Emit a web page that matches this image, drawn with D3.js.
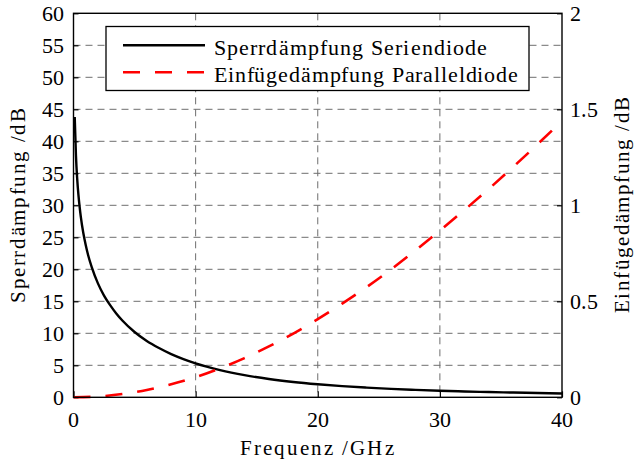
<!DOCTYPE html>
<html><head><meta charset="utf-8"><script src="https://cdn.jsdelivr.net/npm/d3@7"></script>
<style>
  @font-face { font-family: "ChartSerif"; src: local("Liberation Serif"), local("LiberationSerif"), local("Tinos"); }
  body { margin: 0; }
  svg text { font-family: "ChartSerif", "Liberation Serif", "Tinos", "Times New Roman", serif !important; }
</style>
</head>
<body>
<script>
// Frequency samples (GHz) and blocking attenuation of the series diode (dB)
const sperrFreq = [0.1, 0.2, 0.3, 0.4, 0.5, 0.6, 0.8, 1.0, 1.2, 1.5, 2, 2.5, 3, 3.5, 4, 5, 6, 7, 8, 9, 10,
                   12, 14, 16, 18, 20, 22, 24, 26, 28, 30, 32, 34, 36, 38, 40];
const sperrDb   = [43.8, 37.8, 34.2, 31.7, 29.8, 28.2, 25.7, 23.8, 22.2, 20.3, 17.8, 15.9, 14.4, 13.1, 12.0,
                   10.2, 8.8, 7.7, 6.75, 5.97, 5.3, 4.25, 3.46, 2.86, 2.4, 2.04, 1.74, 1.51, 1.32, 1.16,
                   1.02, 0.91, 0.82, 0.74, 0.67, 0.6];

// Frequency samples (GHz) and insertion loss of the shunt diode (dB, right axis)
const einfFreq = [0, 2, 4, 6, 8, 10, 12, 14, 16, 18, 20, 22, 24, 26, 28, 30, 32, 34, 36, 38, 40];
const einfDb   = [0, 0.004, 0.017, 0.038, 0.068, 0.105, 0.151, 0.204, 0.265, 0.332, 0.407, 0.488,
                  0.574, 0.666, 0.765, 0.868, 0.975, 1.085, 1.2, 1.318, 1.44];

// Tick values
const xTicks = [0, 10, 20, 30, 40];
const yLeftTicks = [0, 5, 10, 15, 20, 25, 30, 35, 40, 45, 50, 55, 60];
const yRightTicks = [0, 0.5, 1, 1.5, 2];

// Labels
const legendLabels = ["Sperrdämpfung Seriendiode", "Einfügedämpfung Paralleldiode"];
const xTitle = "Frequenz /GHz";
const yLeftTitle = "Sperrdämpfung /dB";
const yRightTitle = "Einfügedämpfung /dB";

const W = 634, H = 462;
const plot = { left: 73.5, right: 562, top: 13.3, bottom: 397.3 };

const svg = d3.select("body").append("svg").attr("width", W).attr("height", H);

const x = d3.scaleLinear().domain([0, 40]).range([plot.left, plot.right]);
const yL = d3.scaleLinear().domain([0, 60]).range([plot.bottom, plot.top]);
const yR = d3.scaleLinear().domain([0, 2]).range([plot.bottom, plot.top]);

// Dashed grid
const grid = svg.append("g").attr("stroke", "#6e6e6e").attr("stroke-width", 1)
  .attr("stroke-dasharray", "7,5").attr("fill", "none");
grid.selectAll("line.h").data(yLeftTicks.filter(d => d > 0 && d < 60)).join("line")
  .attr("class", "h")
  .attr("x1", plot.left).attr("x2", plot.right)
  .attr("y1", d => yL(d)).attr("y2", d => yL(d));
grid.selectAll("line.v").data(xTicks.filter(d => d > 0 && d < 40)).join("line")
  .attr("class", "v")
  .attr("y1", plot.top).attr("y2", plot.bottom)
  .attr("x1", d => x(d)).attr("x2", d => x(d));

// Plain text helper with the serif face
function addText(parent, str, size) {
  return parent.append("text").attr("font-size", size).attr("fill", "#000").text(str);
}

// Inward tick marks from the axis generators; labels drawn as separate texts
const styleAxis = g => {
  g.select(".domain").remove();
  g.selectAll(".tick text").remove();
  g.selectAll(".tick line").attr("stroke", "#000").attr("stroke-width", 1.2);
};
svg.append("g").attr("transform", `translate(0,${plot.bottom})`)
  .call(d3.axisBottom(x).tickValues(xTicks).tickSizeInner(-6).tickSizeOuter(0)).call(styleAxis);
svg.append("g").attr("transform", `translate(${plot.left},0)`)
  .call(d3.axisLeft(yL).tickValues(yLeftTicks).tickSizeInner(-5).tickSizeOuter(0)).call(styleAxis);
svg.append("g").attr("transform", `translate(${plot.right},0)`)
  .call(d3.axisRight(yR).tickValues(yRightTicks).tickSizeInner(-5).tickSizeOuter(0)).call(styleAxis);

const tickSize = 22;
xTicks.forEach(t => addText(svg, d3.format("d")(t), tickSize)
  .attr("x", x(t)).attr("y", plot.bottom + 30).attr("text-anchor", "middle"));
yLeftTicks.forEach(t => addText(svg, d3.format("d")(t), tickSize)
  .attr("x", plot.left - 10).attr("y", yL(t) + 8).attr("text-anchor", "end"));
yRightTicks.forEach(t => addText(svg, d3.format("~g")(t), tickSize)
  .attr("x", plot.right + 8).attr("y", yR(t) + 8).attr("text-anchor", "start"));

// Curves
const lineL = d3.line().x(d => x(d[0])).y(d => yL(d[1])).curve(d3.curveMonotoneX);
const lineR = d3.line().x(d => x(d[0])).y(d => yR(d[1])).curve(d3.curveMonotoneX);

svg.append("path")
  .datum(sperrFreq.map((f, i) => [f, sperrDb[i]]))
  .attr("d", lineL).attr("fill", "none").attr("stroke", "#000").attr("stroke-width", 2.4);

svg.append("path")
  .datum(einfFreq.map((f, i) => [f, einfDb[i]]))
  .attr("d", lineR).attr("fill", "none").attr("stroke", "#ff0000").attr("stroke-width", 2.6)
  .attr("stroke-dasharray", "17,15");

// Plot frame
svg.append("rect")
  .attr("x", plot.left).attr("y", plot.top)
  .attr("width", plot.right - plot.left).attr("height", plot.bottom - plot.top)
  .attr("fill", "none").attr("stroke", "#000").attr("stroke-width", 1.4);

// Legend
const lg = svg.append("g");
lg.append("rect").attr("x", 106).attr("y", 26.5).attr("width", 423).attr("height", 64)
  .attr("fill", "#fff").attr("stroke", "#000").attr("stroke-width", 1.3);
const legendStyles = [
  { stroke: "#000", dash: null, width: 2.4 },
  { stroke: "#ff0000", dash: "17,15", width: 2.6 }
];
const legendWidths = [273, 304];
legendLabels.forEach((lab, i) => {
  const yy = 45.3 + i * 27;
  lg.append("line").attr("x1", 123).attr("x2", 205).attr("y1", yy).attr("y2", yy)
    .attr("stroke", legendStyles[i].stroke).attr("stroke-width", legendStyles[i].width)
    .attr("stroke-dasharray", legendStyles[i].dash);
  addText(lg, lab, 22).attr("x", 214).attr("y", yy + 9.7)
    .attr("textLength", legendWidths[i]).attr("lengthAdjust", "spacing");
});

// Axis titles
addText(svg, xTitle, 21).attr("x", 316.5).attr("y", 455).attr("text-anchor", "middle")
  .attr("textLength", 154).attr("lengthAdjust", "spacing");
addText(svg, yLeftTitle, 21).attr("transform", "translate(25,205.5) rotate(-90)").attr("text-anchor", "middle")
  .attr("textLength", 195).attr("lengthAdjust", "spacing");
addText(svg, yRightTitle, 21).attr("transform", "translate(629,205) rotate(-90)").attr("text-anchor", "middle")
  .attr("textLength", 216).attr("lengthAdjust", "spacing");
</script>
</body>
</html>
